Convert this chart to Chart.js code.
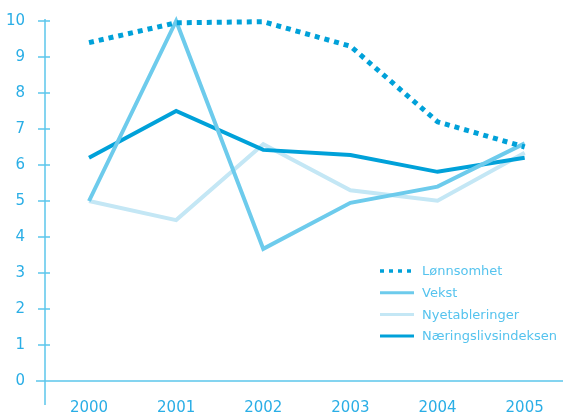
<!DOCTYPE html>
<html>
<head>
<meta charset="utf-8">
<script src="https://cdn.jsdelivr.net/npm/chart.js@4.4.1/dist/chart.umd.min.js"></script>
<style>
  html, body { margin: 0; padding: 0; background: #fff; }
  #wrap { width: 563px; height: 412px; position: relative; }
</style>
</head>
<body>
<div id="wrap"><canvas id="chart"></canvas></div>
<script>
// data
const years = [2000, 2001, 2002, 2003, 2004, 2005];
const yTicks = [0, 1, 2, 3, 4, 5, 6, 7, 8, 9, 10];
const lonnsomhet = [9.4, 9.95, 9.98, 9.3, 7.2, 6.5];
const vekst = [5.0, 10.0, 3.67, 4.95, 5.4, 6.6];
const nyetableringer = [5.0, 4.47, 6.58, 5.3, 5.01, 6.34];
const naeringsliv = [6.2, 7.5, 6.42, 6.28, 5.81, 6.2];

const Colors = {
    dark: '#00a1d9',
    mid: '#6dcbec',
    light: '#c4e7f5',
    axis: '#5cc6ec',
    tick: '#2aaee6',
    legendText: '#55c3ee'
};

const toPoints = arr => arr.map((v, i) => ({ x: years[i], y: v }));

// legend entries, in the picture's order
const legendItems = [
    { label: 'Lønnsomhet', color: Colors.dark, dash: [4, 5], width: 3.5 },
    { label: 'Vekst', color: Colors.mid, dash: [], width: 3 },
    { label: 'Nyetableringer', color: Colors.light, dash: [], width: 3 },
    { label: 'Næringslivsindeksen', color: Colors.dark, dash: [], width: 3 }
];

// axes and legend are drawn by hand, the look is not standard
const axesPlugin = {
    id: 'axesPlugin',
    beforeDatasetsDraw(chart) {
        const ctx = chart.ctx;
        const y = chart.scales.y;
        const area = chart.chartArea;
        ctx.save();
        ctx.strokeStyle = Colors.axis;
        ctx.lineWidth = 1.5;
        ctx.beginPath();
        ctx.moveTo(area.left, y.getPixelForValue(10) - 2);
        ctx.lineTo(area.left, area.bottom + 24);
        ctx.moveTo(area.left - 9, y.getPixelForValue(0));
        ctx.lineTo(chart.width, y.getPixelForValue(0));
        yTicks.forEach(t => {
            if (t === 0) return;
            const py = y.getPixelForValue(t);
            ctx.moveTo(area.left - 7, py);
            ctx.lineTo(area.left + 5, py);
        });
        ctx.stroke();
        ctx.restore();
    },
    afterDraw(chart) {
        const ctx = chart.ctx;
        ctx.save();
        ctx.font = '13px "DejaVu Sans"';
        ctx.textBaseline = 'middle';
        legendItems.forEach((it, i) => {
            const py = 271 + i * 21.7;
            ctx.strokeStyle = it.color;
            ctx.lineWidth = it.width;
            ctx.setLineDash(it.dash);
            ctx.beginPath();
            ctx.moveTo(380, py);
            ctx.lineTo(414, py);
            ctx.stroke();
            ctx.setLineDash([]);
            ctx.fillStyle = Colors.legendText;
            ctx.fillText(it.label, 422, py + 1);
        });
        ctx.restore();
    }
};

const ctx = document.getElementById('chart').getContext('2d');
const myChart = new Chart(ctx, {
    type: 'line',
    data: {
        datasets: [{
            label: 'Lønnsomhet',
            data: toPoints(lonnsomhet),
            borderColor: Colors.dark,
            borderWidth: 5,
            borderDash: [5, 5],
            borderCapStyle: 'butt'
        }, {
            label: 'Vekst',
            data: toPoints(vekst),
            borderColor: Colors.mid,
            borderWidth: 4
        }, {
            label: 'Næringslivsindeksen',
            data: toPoints(naeringsliv),
            borderColor: Colors.dark,
            borderWidth: 4
        }, {
            label: 'Nyetableringer',
            data: toPoints(nyetableringer),
            borderColor: Colors.light,
            borderWidth: 4
        }]
    },
    options: {
        responsive: true,
        maintainAspectRatio: false,
        animation: false,
        layout: { padding: { top: 18, right: 0, left: 0, bottom: 0 } },
        elements: {
            point: { radius: 0 },
            line: { tension: 0, fill: false, borderJoinStyle: 'miter' }
        },
        datasets: { line: { clip: false } },
        plugins: {
            legend: { display: false },
            tooltip: { enabled: false }
        },
        scales: {
            x: {
                type: 'linear',
                min: 1999.495,
                max: 2005.44,
                afterBuildTicks: s => { s.ticks = years.map(v => ({ value: v })); },
                afterFit: s => { s.height = 31; },
                grid: { display: false },
                border: { display: false },
                ticks: {
                    color: Colors.tick,
                    font: { family: 'DejaVu Sans', size: 15 },
                    padding: 10,
                    maxRotation: 0,
                    callback: v => String(v)
                }
            },
            y: {
                min: 0,
                max: 10,
                afterBuildTicks: s => { s.ticks = yTicks.map(v => ({ value: v })); },
                afterFit: s => { s.width = 45; },
                grid: { display: false },
                border: { display: false },
                ticks: {
                    color: Colors.tick,
                    font: { family: 'DejaVu Sans', size: 15 },
                    padding: 12
                }
            }
        }
    },
    plugins: [axesPlugin]
});
</script>
</body>
</html>
